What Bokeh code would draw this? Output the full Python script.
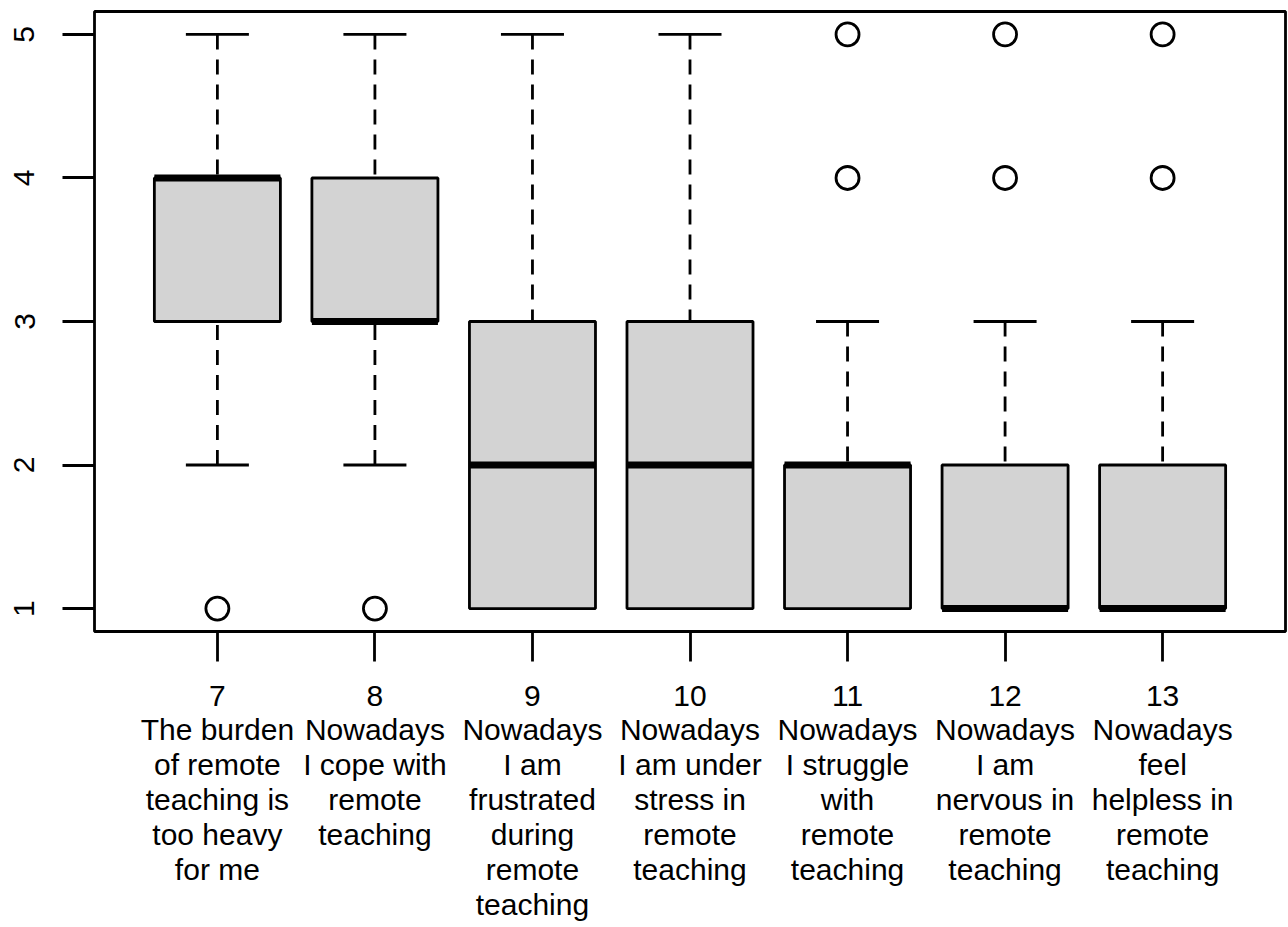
from bokeh.plotting import figure
from bokeh.models import FixedTicker, Range1d, ColumnDataSource
from bokeh.embed import file_html
from bokeh.resources import INLINE

# ---- data ----
questions = ["7", "8", "9", "10", "11", "12", "13"]
statements = [
    "The burden\nof remote\nteaching is\ntoo heavy\nfor me",
    "Nowadays\nI cope with\nremote\nteaching",
    "Nowadays\nI am\nfrustrated\nduring\nremote\nteaching",
    "Nowadays\nI am under\nstress in\nremote\nteaching",
    "Nowadays\nI struggle\nwith\nremote\nteaching",
    "Nowadays\nI am\nnervous in\nremote\nteaching",
    "Nowadays\nfeel\nhelpless in\nremote\nteaching",
]
whisker_low = [2, 2, 1, 1, 1, 1, 1]
q1 = [3, 3, 1, 1, 1, 1, 1]
median = [4, 3, 2, 2, 2, 1, 1]
q3 = [4, 4, 3, 3, 2, 2, 2]
whisker_high = [5, 5, 5, 5, 3, 3, 3]
outliers = [[1], [1], [], [], [4, 5], [4, 5], [4, 5]]
y_ticks = [1, 2, 3, 4, 5]

pos = list(range(1, len(questions) + 1))
box_w = 0.8
staple_w = 0.4
FONT = "Liberation Sans"
LW = 2.8

p = figure(width=1287, height=925, output_backend="svg", toolbar_location=None,
           x_range=Range1d(0.22, 7.78), y_range=Range1d(0.84, 5.16),
           min_border_left=94, min_border_right=2, min_border_top=11, min_border_bottom=294)
p.xgrid.visible = False
p.ygrid.visible = False
p.outline_line_color = "black"
p.outline_line_width = LW
p.background_fill_color = "white"
p.border_fill_color = "white"

src = ColumnDataSource(dict(x=pos, lo=whisker_low, q1=q1, med=median, q3=q3, hi=whisker_high,
                            l=[v - box_w / 2 for v in pos], r=[v + box_w / 2 for v in pos],
                            sl=[v - staple_w / 2 for v in pos], sr=[v + staple_w / 2 for v in pos]))

# whiskers
p.segment(x0="x", y0="hi", x1="x", y1="q3", source=src, line_color="black", line_width=LW, line_dash="15 10")
p.segment(x0="x", y0="lo", x1="x", y1="q1", source=src, line_color="black", line_width=LW, line_dash="15 10")
# staples
p.segment(x0="sl", y0="hi", x1="sr", y1="hi", source=src, line_color="black", line_width=LW)
p.segment(x0="sl", y0="lo", x1="sr", y1="lo", source=src, line_color="black", line_width=LW)
# boxes
p.quad(left="l", right="r", bottom="q1", top="q3", source=src, fill_color="#D3D3D3",
       line_color="black", line_width=LW)
# medians
p.segment(x0="l", y0="med", x1="r", y1="med", source=src, line_color="black", line_width=7, line_cap="butt")
# outliers
ox = [pos[i] for i, o in enumerate(outliers) for _ in o]
oy = [v for o in outliers for v in o]
p.scatter(ox, oy, marker="circle", size=23, fill_color=None, line_color="black", line_width=LW)

# axes
xa = p.xaxis[0]
xa.ticker = FixedTicker(ticks=pos)
xa.major_label_overrides = {v: q + "\n" + s for v, q, s in zip(pos, questions, statements)}
xa.axis_line_color = None
xa.major_tick_in = 0
xa.major_tick_out = 30
xa.major_tick_line_width = LW
xa.minor_tick_line_color = None
xa.major_label_text_font = FONT
xa.major_label_text_font_size = "30px"
xa.major_label_text_color = "black"
xa.major_label_text_line_height = 1.06
xa.major_label_standoff = 17

ya = p.yaxis[0]
ya.ticker = FixedTicker(ticks=y_ticks)
ya.axis_line_color = None
ya.major_tick_in = 0
ya.major_tick_out = 32
ya.major_tick_line_width = LW
ya.minor_tick_line_color = None
ya.major_label_orientation = "vertical"
ya.major_label_text_font = FONT
ya.major_label_text_font_size = "30px"
ya.major_label_text_color = "black"
ya.major_label_standoff = 28

open("out.html", "w").write(file_html(p, INLINE))
